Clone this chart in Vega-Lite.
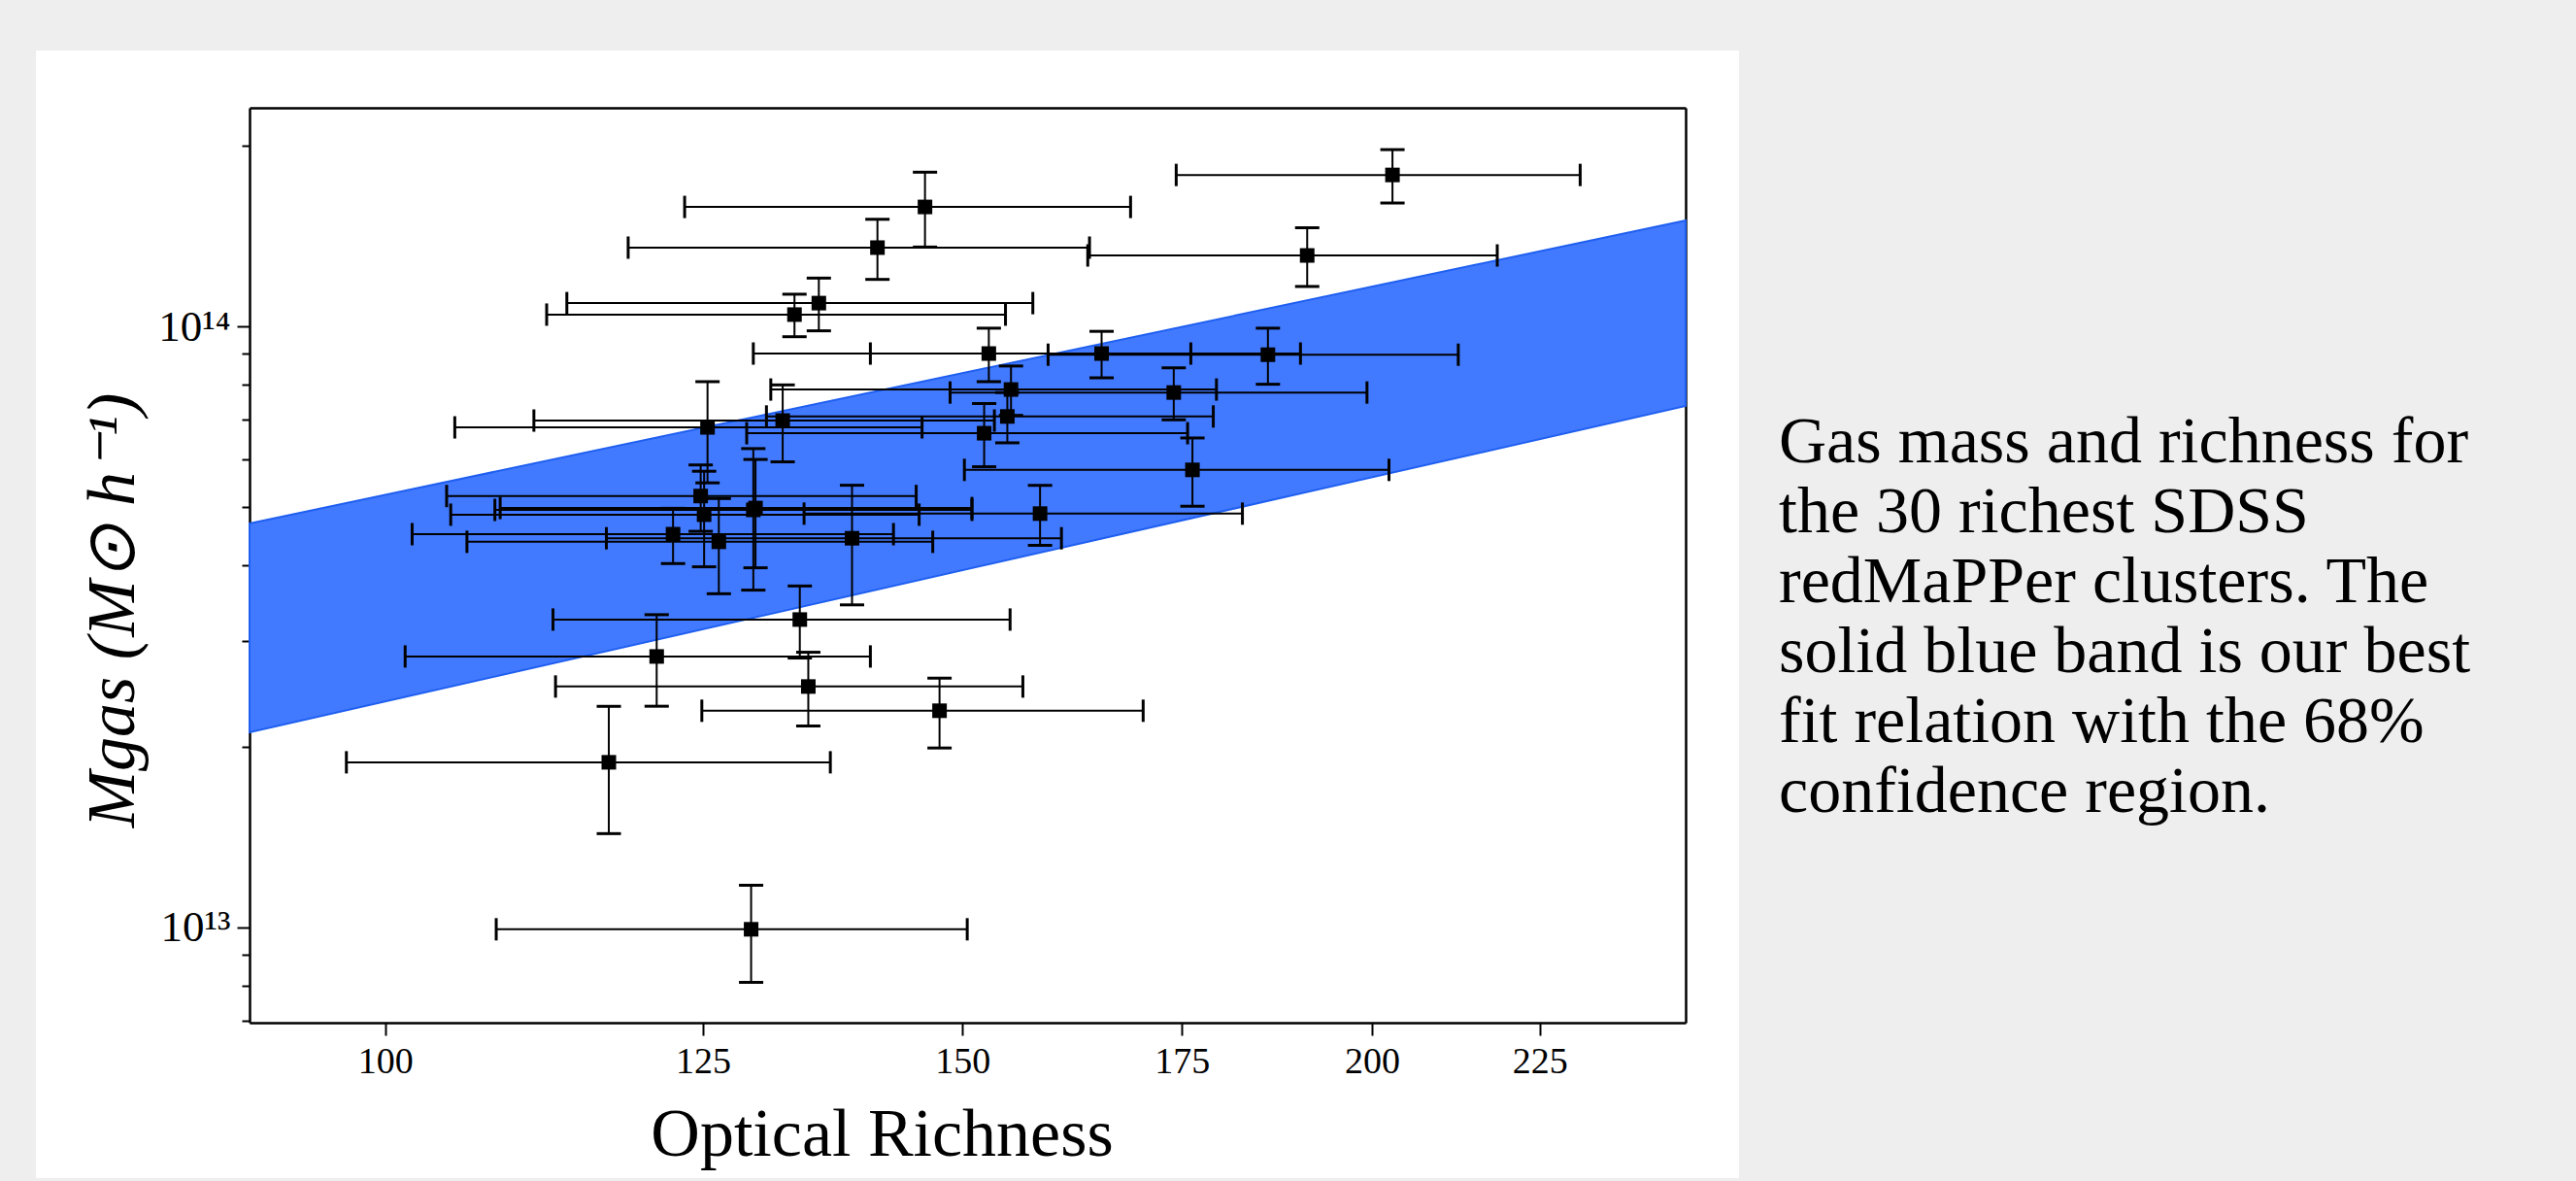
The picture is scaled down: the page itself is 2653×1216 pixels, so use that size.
{
  "$schema": "https://vega.github.io/schema/vega-lite/v6.json",
  "width": 1754,
  "height": 1161,
  "autosize": {"type": "none"},
  "padding": {"left": 37, "top": 52, "right": 862, "bottom": 3},
  "background": "#eeeeee",
  "config": {"view": {"fill": "white", "stroke": null}},
  "title": {
    "text": ["Gas mass and richness for", "the 30 richest SDSS", "redMaPPer clusters. The", "solid blue band is our best", "fit relation with the 68%", "confidence region."],
    "anchor": "start",
    "frame": "group",
    "align": "left",
    "baseline": "alphabetic",
    "dx": 1795,
    "dy": 852,
    "offset": 0,
    "font": "Liberation Serif",
    "fontSize": 68,
    "fontWeight": "normal",
    "color": "black",
    "lineHeight": 72
  },
  "datasets": {
    "pts": [
      {"rich":202.9,"rich_lo":174.3,"rich_hi":231.5,"mgas":1.786e14,"mgas_lo":1.604e14,"mgas_hi":1.968e14},
      {"rich":191.1,"rich_lo":163.8,"rich_hi":218.4,"mgas":1.312e14,"mgas_lo":1.165e14,"mgas_hi":1.459e14},
      {"rich":185.9,"rich_lo":159.3,"rich_hi":212.5,"mgas":8.97e13,"mgas_lo":8.01e13,"mgas_hi":9.93e13},
      {"rich":165.4,"rich_lo":140.6,"rich_hi":190.2,"mgas":9.01e13,"mgas_lo":8.21e13,"mgas_hi":9.81e13},
      {"rich":152.8,"rich_lo":129.5,"rich_hi":176.1,"mgas":9.01e13,"mgas_lo":8.09e13,"mgas_hi":9.93e13},
      {"rich":146.1,"rich_lo":123.4,"rich_hi":168.8,"mgas":1.58e14,"mgas_lo":1.355e14,"mgas_hi":1.805e14},
      {"rich":141.3,"rich_lo":118.6,"rich_hi":164.0,"mgas":1.352e14,"mgas_lo":1.197e14,"mgas_hi":1.507e14},
      {"rich":135.6,"rich_lo":113.6,"rich_hi":157.6,"mgas":1.093e14,"mgas_lo":9.83e13,"mgas_hi":1.203e14},
      {"rich":133.3,"rich_lo":112.0,"rich_hi":154.6,"mgas":1.046e14,"mgas_lo":9.61e13,"mgas_hi":1.131e14},
      {"rich":155.2,"rich_lo":131.1,"rich_hi":179.3,"mgas":7.85e13,"mgas_lo":7.11e13,"mgas_hi":8.59e13},
      {"rich":174.0,"rich_lo":148.7,"rich_hi":199.3,"mgas":7.76e13,"mgas_lo":6.99e13,"mgas_hi":8.53e13},
      {"rich":132.2,"rich_lo":111.0,"rich_hi":153.4,"mgas":6.97e13,"mgas_lo":5.95e13,"mgas_hi":7.99e13},
      {"rich":154.8,"rich_lo":130.7,"rich_hi":178.9,"mgas":7.08e13,"mgas_lo":6.40e13,"mgas_hi":7.76e13},
      {"rich":152.3,"rich_lo":128.9,"rich_hi":175.7,"mgas":6.64e13,"mgas_lo":5.84e13,"mgas_hi":7.44e13},
      {"rich":176.3,"rich_lo":150.2,"rich_hi":202.4,"mgas":5.77e13,"mgas_lo":5.02e13,"mgas_hi":6.52e13},
      {"rich":129.7,"rich_lo":108.4,"rich_hi":151.0,"mgas":4.985e13,"mgas_lo":3.965e13,"mgas_hi":6.005e13},
      {"rich":129.5,"rich_lo":108.0,"rich_hi":151.0,"mgas":4.95e13,"mgas_lo":3.64e13,"mgas_hi":6.26e13},
      {"rich":158.4,"rich_lo":134.2,"rich_hi":182.6,"mgas":4.88e13,"mgas_lo":4.32e13,"mgas_hi":5.44e13},
      {"rich":138.8,"rich_lo":116.8,"rich_hi":160.8,"mgas":4.44e13,"mgas_lo":3.44e13,"mgas_hi":5.44e13},
      {"rich":125.4,"rich_lo":105.0,"rich_hi":145.8,"mgas":6.79e13,"mgas_lo":5.49e13,"mgas_hi":8.09e13},
      {"rich":124.8,"rich_lo":104.4,"rich_hi":145.2,"mgas":5.22e13,"mgas_lo":4.56e13,"mgas_hi":5.88e13},
      {"rich":125.1,"rich_lo":104.7,"rich_hi":145.5,"mgas":4.86e13,"mgas_lo":3.98e13,"mgas_hi":5.74e13},
      {"rich":122.4,"rich_lo":101.9,"rich_hi":142.9,"mgas":4.51e13,"mgas_lo":4.03e13,"mgas_hi":4.98e13},
      {"rich":126.4,"rich_lo":105.9,"rich_hi":146.9,"mgas":4.38e13,"mgas_lo":3.59e13,"mgas_hi":5.17e13},
      {"rich":121.0,"rich_lo":101.4,"rich_hi":140.6,"mgas":2.823e13,"mgas_lo":2.333e13,"mgas_hi":3.313e13},
      {"rich":117.0,"rich_lo":97.3,"rich_hi":136.7,"mgas":1.882e13,"mgas_lo":1.432e13,"mgas_hi":2.332e13},
      {"rich":133.8,"rich_lo":112.5,"rich_hi":155.1,"mgas":3.252e13,"mgas_lo":2.806e13,"mgas_hi":3.698e13},
      {"rich":134.6,"rich_lo":112.7,"rich_hi":156.5,"mgas":2.516e13,"mgas_lo":2.163e13,"mgas_hi":2.869e13},
      {"rich":147.6,"rich_lo":124.9,"rich_hi":170.3,"mgas":2.293e13,"mgas_lo":1.988e13,"mgas_hi":2.598e13},
      {"rich":129.3,"rich_lo":108.1,"rich_hi":150.5,"mgas":9.926e12,"mgas_lo":8.10e12,"mgas_hi":1.175e13}
    ]
  },
  "resolve": {"axis": {"x": "independent", "y": "independent"}},
  "layer": [
    {
      "data": {"values": [
        {"richness": 90.9, "lower": 2.112e13, "upper": 4.699e13},
        {"richness": 249.3, "lower": 7.37e13, "upper": 1.5e14}
      ]},
      "mark": {"type": "area", "color": "#427aff", "stroke": "#1f5ff0", "strokeWidth": 2, "opacity": 1},
      "encoding": {
        "x": {
          "field": "richness", "type": "quantitative",
          "scale": {"type": "log", "domain": [90.9, 249.3], "range": [220, 1699], "nice": false, "zero": false},
          "axis": {
            "orient": "bottom", "offset": -160,
            "values": [100, 125, 150, 175, 200, 225], "format": "d",
            "grid": false, "domainColor": "black", "domainWidth": 2.5,
            "tickColor": "black", "tickWidth": 2, "tickSize": 13,
            "labelFont": "Liberation Serif", "labelFontSize": 38, "labelColor": "black", "labelPadding": 8,
            "title": "Optical Richness", "titleFont": "Liberation Serif", "titleFontSize": 70,
            "titleFontWeight": "normal", "titleColor": "black",
            "titleX": 871, "titleY": 136, "titleAlign": "center", "titleBaseline": "alphabetic", "titleAnchor": null
          }
        },
        "y": {
          "field": "upper", "type": "quantitative",
          "scale": {"type": "log", "domain": [6.94e12, 2.31e14], "range": [1001, 59], "nice": false, "zero": false},
          "axis": {
            "orient": "left", "offset": -220,
            "values": [7e12, 8e12, 9e12, 1e13, 2e13, 3e13, 4e13, 5e13, 6e13, 7e13, 8e13, 9e13, 1e14, 2e14],
            "labelExpr": "datum.value === 1e13 ? '10¹³' : (datum.value === 1e14 ? '10¹⁴' : '')",
            "grid": false, "domainColor": "black", "domainWidth": 2.5,
            "tickColor": "black", "tickWidth": 2,
            "tickSize": {"condition": {"test": "datum.value === 1e13 || datum.value === 1e14", "value": 13}, "value": 8},
            "labelFont": "Liberation Serif", "labelFontSize": 45, "labelColor": "black", "labelPadding": 7,
            "title": "Mgas  (M⊙  h⁻¹)", "titleFont": "Liberation Serif", "titleFontSize": 70,
            "titleFontStyle": "italic", "titleFontWeight": "normal", "titleColor": "black",
            "titleX": -120, "titleY": 576, "titleAngle": 270, "titleAlign": "center", "titleBaseline": "alphabetic", "titleAnchor": null
          }
        },
        "y2": {"field": "lower"}
      }
    },
    {
      "data": {"name": "pts"},
      "mark": {"type": "rule", "color": "black", "strokeWidth": 2},
      "encoding": {
        "x": {"field": "rich_lo", "type": "quantitative",
          "axis": {"orient": "top", "offset": -59, "ticks": false, "labels": false, "title": null, "grid": false, "domainColor": "black", "domainWidth": 2.5}},
        "x2": {"field": "rich_hi"},
        "y": {"field": "mgas", "type": "quantitative",
          "axis": {"orient": "right", "offset": -55, "ticks": false, "labels": false, "title": null, "grid": false, "domainColor": "black", "domainWidth": 2.5}}
      }
    },
    {
      "data": {"name": "pts"},
      "mark": {"type": "rule", "color": "black", "strokeWidth": 2},
      "encoding": {
        "x": {"field": "rich", "type": "quantitative", "axis": null},
        "y": {"field": "mgas_lo", "type": "quantitative", "axis": null},
        "y2": {"field": "mgas_hi"}
      }
    },
    {
      "data": {"name": "pts"},
      "mark": {"type": "tick", "orient": "vertical", "color": "black", "size": 23, "thickness": 3, "opacity": 1},
      "encoding": {
        "x": {"field": "rich_lo", "type": "quantitative", "axis": null},
        "y": {"field": "mgas", "type": "quantitative", "axis": null}
      }
    },
    {
      "data": {"name": "pts"},
      "mark": {"type": "tick", "orient": "vertical", "color": "black", "size": 23, "thickness": 3, "opacity": 1},
      "encoding": {
        "x": {"field": "rich_hi", "type": "quantitative", "axis": null},
        "y": {"field": "mgas", "type": "quantitative", "axis": null}
      }
    },
    {
      "data": {"name": "pts"},
      "mark": {"type": "tick", "orient": "horizontal", "color": "black", "size": 25, "thickness": 3, "opacity": 1},
      "encoding": {
        "x": {"field": "rich", "type": "quantitative", "axis": null},
        "y": {"field": "mgas_lo", "type": "quantitative", "axis": null}
      }
    },
    {
      "data": {"name": "pts"},
      "mark": {"type": "tick", "orient": "horizontal", "color": "black", "size": 25, "thickness": 3, "opacity": 1},
      "encoding": {
        "x": {"field": "rich", "type": "quantitative", "axis": null},
        "y": {"field": "mgas_hi", "type": "quantitative", "axis": null}
      }
    },
    {
      "data": {"name": "pts"},
      "mark": {"type": "point", "shape": "square", "filled": true, "color": "black", "size": 225, "opacity": 1},
      "encoding": {
        "x": {"field": "rich", "type": "quantitative", "axis": null},
        "y": {"field": "mgas", "type": "quantitative", "axis": null}
      }
    }
  ]
}
